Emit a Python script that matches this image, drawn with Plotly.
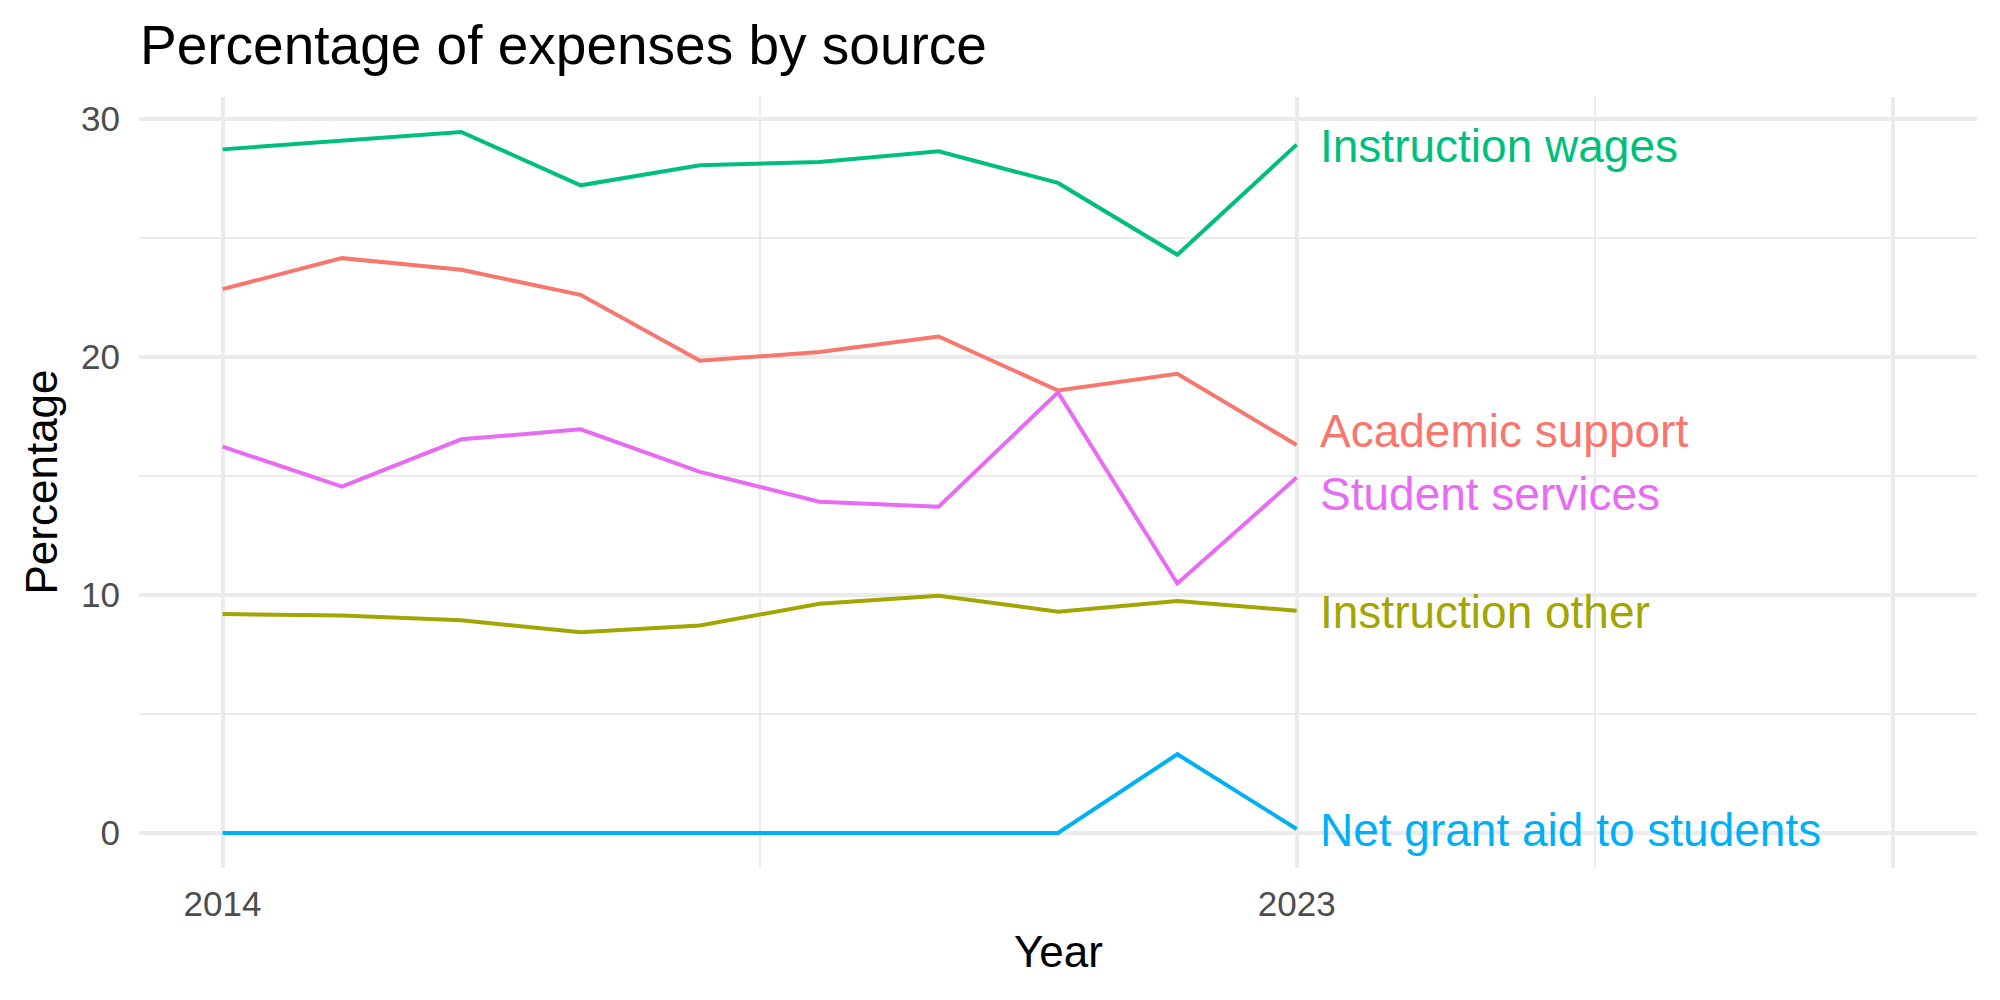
import plotly.graph_objects as go

years = [2014, 2015, 2016, 2017, 2018, 2019, 2020, 2021, 2022, 2023]

academic_support = [22.85, 24.15, 23.66, 22.61, 19.84, 20.21, 20.86, 18.59, 19.29, 16.30]
instruction_other = [9.20, 9.14, 8.94, 8.43, 8.72, 9.63, 9.97, 9.30, 9.75, 9.34]
instruction_wages = [28.72, 29.09, 29.45, 27.21, 28.05, 28.19, 28.64, 27.31, 24.29, 28.92]
net_grant_aid = [0.0, 0.0, 0.0, 0.0, 0.0, 0.0, 0.0, 0.0, 3.31, 0.17]
student_services = [16.23, 14.55, 16.54, 16.96, 15.17, 13.92, 13.71, 18.51, 10.48, 14.93]

series_names = ["Academic support", "Instruction other", "Instruction wages",
                "Net grant aid to students", "Student services"]
series_values = [academic_support, instruction_other, instruction_wages,
                 net_grant_aid, student_services]
colors = ["#F8766D", "#A3A500", "#00BF7D", "#00B0F6", "#E76BF3"]
# label nudges (repel-like adjustments) in data units
label_nudge_y = [0.57, -0.07, -0.05, -0.06, -0.68]
label_x = 2023.18

x_tickvals = [2014, 2023, 2028]
x_ticktext = ["2014", "2023", ""]
y_tickvals = [0, 10, 20, 30]

FONT = "Liberation Sans, Arial, Helvetica, sans-serif"
GRID = "#EBEBEB"

fig = go.Figure()
for name, vals, col in zip(series_names, series_values, colors):
    fig.add_trace(go.Scatter(x=years, y=vals, mode="lines", name=name,
                             line=dict(color=col, width=4), showlegend=False,
                             hoverinfo="skip"))

for name, vals, col, dy in zip(series_names, series_values, colors, label_nudge_y):
    fig.add_annotation(x=label_x, y=vals[-1] + dy, xref="x", yref="y",
                       text=name, showarrow=False, xanchor="left", yanchor="middle",
                       font=dict(family=FONT, size=46, color=col))

L, R, T, B = 139, 23, 97, 132
W, H = 2000, 1000
pw, ph = W - L - R, H - T - B

def px_x(X):
    return (X - L) / pw

def px_y(Y):
    return (H - B - Y) / ph

fig.add_annotation(x=px_x(138), y=px_y(45), xref="paper", yref="paper",
                   text="Percentage of expenses by source", showarrow=False,
                   xanchor="left", yanchor="middle",
                   font=dict(family=FONT, size=55, color="#000000"))
fig.add_annotation(x=0.5, y=px_y(951), xref="paper", yref="paper",
                   text="Year", showarrow=False, xanchor="center", yanchor="middle",
                   font=dict(family=FONT, size=44, color="#000000"))
fig.add_annotation(x=px_x(41), y=0.5, xref="paper", yref="paper",
                   text="Percentage", showarrow=False, textangle=-90,
                   xanchor="center", yanchor="middle",
                   font=dict(family=FONT, size=44, color="#000000"))

fig.update_layout(
    width=W, height=H,
    margin=dict(l=L, r=R, t=T, b=B, autoexpand=False),
    paper_bgcolor="white", plot_bgcolor="white",
    font=dict(family=FONT),
    xaxis=dict(range=[2013.3, 2028.7], tickvals=x_tickvals, ticktext=x_ticktext,
               showgrid=True, gridcolor=GRID, gridwidth=4, zeroline=False,
               showline=False, ticks="", ticklabelstandoff=12,
               tickfont=dict(family=FONT, size=35, color="#4D4D4D"),
               minor=dict(tickvals=[2018.5, 2025.5], showgrid=True,
                          gridcolor=GRID, gridwidth=2, ticks=""),
               automargin=False, fixedrange=True),
    yaxis=dict(range=[-1.47, 30.92], tickvals=y_tickvals,
               showgrid=True, gridcolor=GRID, gridwidth=4, zeroline=False,
               showline=False, ticks="", ticklabelstandoff=18,
               tickfont=dict(family=FONT, size=35, color="#4D4D4D"),
               minor=dict(tickvals=[5, 15, 25], showgrid=True,
                          gridcolor=GRID, gridwidth=2, ticks=""),
               automargin=False, fixedrange=True),
)

fig.write_html("out.html")
